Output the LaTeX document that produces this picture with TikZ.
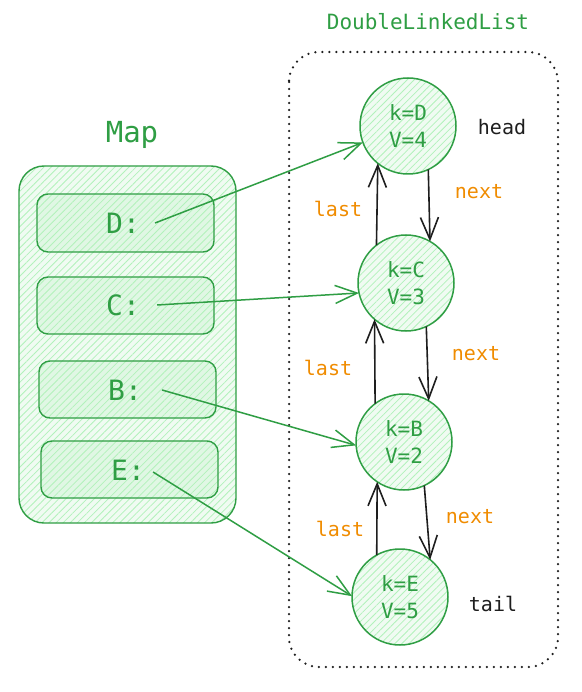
\documentclass[tikz,border=0pt]{standalone}
\usepackage{fontspec}
\setmonofont{DejaVu Sans Mono}
\usetikzlibrary{arrows.meta,patterns.meta}
\definecolor{gr}{HTML}{2F9E44}
\definecolor{hach}{HTML}{B2F2BB}
\definecolor{lg}{HTML}{F0FBF2}
\definecolor{lg2}{HTML}{E0F7E4}
\definecolor{og}{HTML}{F08C00}
\definecolor{ink}{HTML}{1E1E1E}
\begin{document}
\begin{tikzpicture}[x=1pt,y=-1pt,
  hatch/.style={preaction={fill=#1}, pattern={Lines[angle=45,distance=5pt,line width=0.8pt]}, pattern color=hach},
  circ/.style={circle, draw=gr, line width=1.5pt, hatch=lg, minimum size=96pt, inner sep=0pt, outer sep=0pt, text=gr, align=center, font=\fontsize{21}{27}\selectfont\ttfamily},
  keybox/.style={draw=gr, line width=1.4pt, rounded corners=11pt, hatch=lg2},
  keytxt/.style={text=gr, font=\fontsize{28}{30}\selectfont\ttfamily, inner sep=2pt},
  lab/.style={font=\fontsize{20}{22}\selectfont\ttfamily, inner sep=0pt},
  arr/.style={-{Straight Barb[length=22pt,width=18pt]}},
  blk/.style={arr, draw=ink, line width=1.6pt},
  grn/.style={arr, draw=gr, line width=1.5pt}
]
\fill[white] (0,0) rectangle (581,692);
\useasboundingbox (0,0) rectangle (581,692);

% titles
\node[text=gr, font=\fontsize{21}{24}\selectfont\ttfamily] (tDL) at (428,22) {DoubleLinkedList};
\node[text=gr, font=\fontsize{29}{32}\selectfont\ttfamily] (tMap) at (132,135) {Map};

% dotted container
\draw[ink, line width=2.5pt, line cap=round, dash pattern=on 0pt off 7pt, rounded corners=30pt] (289,52) rectangle (558,667);

% map container
\draw[gr, line width=1.4pt, rounded corners=25pt, hatch=lg] (19,166) rectangle (236,523);
\draw[keybox] (37,194) rectangle (214,252);
\draw[keybox] (37,277) rectangle (214,334);
\draw[keybox] (39,361) rectangle (216,418);
\draw[keybox] (41,441) rectangle (218,498);
\node[keytxt] (tD) at (123,223) {D:};
\node[keytxt] (tC) at (123,305) {C:};
\node[keytxt] (tB) at (125,390) {B:};
\node[keytxt] (tE) at (128,470) {E:};

% list nodes
\node[circ] (cD) at (408,126) {k=D\\V=4};
\node[circ] (cC) at (406,283) {k=C\\V=3};
\node[circ] (cB) at (404,442) {k=B\\V=2};
\node[circ] (cE) at (400,597) {k=E\\V=5};

\node[lab, text=ink] (head) at (502,127) {head};
\node[lab, text=ink] (tail) at (493,604) {tail};

% next / last arrows
\draw[blk] (cC.128) -- (cD.231);
\draw[blk] (cD.295) -- (cC.60);
\draw[blk] (cB.127) -- (cC.229);
\draw[blk] (cC.295) -- (cB.59);
\draw[blk] (cE.119) -- (cB.236);
\draw[blk] (cB.295) -- (cE.51);

\node[lab, text=og] (l1) at (338,209) {last};
\node[lab, text=og] (n1) at (479,192) {next};
\node[lab, text=og] (l2) at (328,368) {last};
\node[lab, text=og] (n2) at (476,354) {next};
\node[lab, text=og] (l3) at (340,529) {last};
\node[lab, text=og] (n3) at (470,517) {next};

% map to node arrows
\draw[grn] ([xshift=13pt]tD.east) -- (cD.200);
\draw[grn] ([xshift=15pt]tC.east) -- (cC.192);
\draw[grn] ([xshift=18pt]tB.east) -- (cB.184);
\draw[grn] ([xshift=6pt,yshift=-2pt]tE.east) -- (cE.179);
\end{tikzpicture}
\end{document}
